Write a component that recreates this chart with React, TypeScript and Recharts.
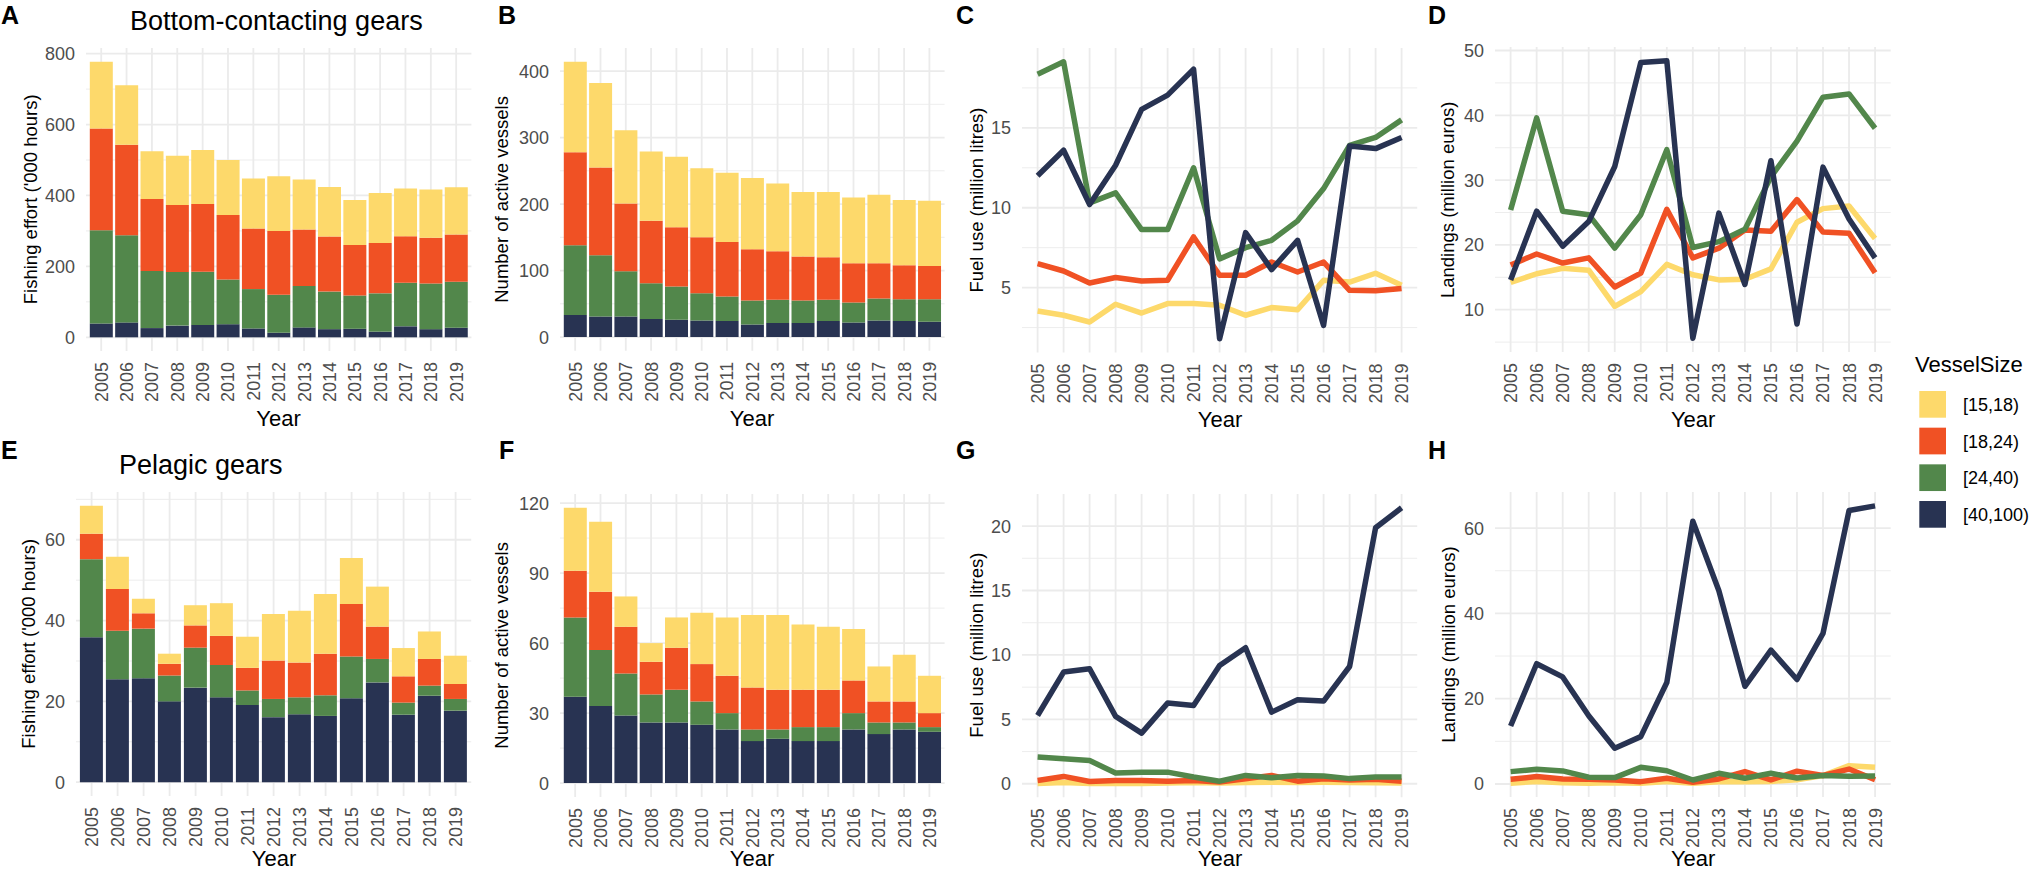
import React from 'react';
import { Bar, BarChart, CartesianGrid, Line, LineChart, XAxis, YAxis } from 'recharts';

const years = ['2005', '2006', '2007', '2008', '2009', '2010', '2011', '2012', '2013', '2014', '2015', '2016', '2017', '2018', '2019'];
const sizeLabels = ['[15,18)', '[18,24)', '[24,40)', '[40,100)'];

// A: fishing effort, bottom-contacting gears ('000 hours)
const effortBottom15 = [188, 168, 135, 139, 152, 155, 141, 154, 141, 140, 127, 141, 135, 136, 133];
const effortBottom18 = [287, 255, 203, 189, 191, 182, 171, 180, 159, 155, 142, 142, 131, 129, 133];
const effortBottom24 = [263, 246, 161, 151, 150, 126, 111, 107, 117, 106, 94, 108, 123, 129, 130];
const effortBottom40 = [39, 42, 26, 33, 35, 37, 25, 13, 28, 23, 24, 16, 31, 23, 27];

// B: active vessels, bottom-contacting gears
const vesselsBottom15 = [136, 127, 110, 104, 106, 104, 104, 107, 102, 97, 98, 99, 103, 98, 98];
const vesselsBottom18 = [140, 132, 102, 94, 89, 84, 82, 77, 73, 66, 64, 59, 53, 51, 50];
const vesselsBottom24 = [105, 92, 68, 54, 50, 41, 37, 36, 35, 34, 32, 30, 33, 33, 34];
const vesselsBottom40 = [33, 31, 31, 27, 26, 25, 24, 19, 21, 21, 24, 22, 25, 24, 23];

// C: fuel use, bottom-contacting gears (million litres)
const fuelBottom15 = [3.54, 3.27, 2.85, 3.96, 3.41, 4.0, 4.0, 3.9, 3.27, 3.75, 3.62, 5.46, 5.35, 5.9, 5.15];
const fuelBottom18 = [6.5, 6.04, 5.29, 5.63, 5.42, 5.46, 8.17, 5.77, 5.77, 6.6, 5.98, 6.6, 4.83, 4.8, 4.95];
const fuelBottom24 = [18.36, 19.13, 10.3, 10.93, 8.63, 8.63, 12.5, 6.8, 7.5, 7.96, 9.18, 11.2, 13.9, 14.4, 15.5];
const fuelBottom40 = [12.0, 13.6, 10.2, 12.66, 16.15, 17.05, 18.67, 1.8, 8.44, 6.13, 7.96, 2.64, 13.87, 13.7, 14.4];

// D: landings, bottom-contacting gears (million euros)
const landBottom15 = [14.2, 15.55, 16.4, 16.1, 10.5, 12.8, 17.0, 15.4, 14.6, 14.7, 16.3, 23.5, 25.6, 26.0, 21.0];
const landBottom18 = [16.9, 18.6, 17.2, 18.0, 13.5, 15.65, 25.5, 18.0, 19.5, 22.3, 22.1, 27.0, 22.0, 21.8, 15.7];
const landBottom24 = [25.4, 39.6, 25.2, 24.65, 19.5, 24.65, 34.7, 19.6, 20.5, 22.4, 30.5, 36.0, 42.8, 43.3, 38.0];
const landBottom40 = [14.6, 25.2, 19.8, 23.6, 32.1, 48.15, 48.4, 5.6, 24.9, 13.9, 33.0, 7.8, 32.0, 24.0, 18.0];

// E: fishing effort, pelagic gears
const effortPel15 = [6.9, 8.0, 3.6, 2.5, 5.0, 8.1, 7.7, 11.5, 12.8, 14.8, 11.4, 9.9, 7.0, 6.8, 7.0];
const effortPel18 = [6.3, 10.3, 3.8, 2.9, 5.5, 7.2, 5.6, 9.5, 8.6, 10.3, 13.0, 8.0, 6.5, 6.6, 3.7];
const effortPel24 = [19.3, 12.0, 12.3, 6.4, 9.9, 8.0, 3.6, 4.5, 4.2, 5.1, 10.3, 5.8, 3.0, 2.5, 2.9];
const effortPel40 = [35.9, 25.5, 25.7, 20.0, 23.4, 21.0, 19.1, 16.1, 16.8, 16.4, 20.8, 24.7, 16.7, 21.4, 17.7];

// F: active vessels, pelagic gears
const vesselsPel15 = [27, 30, 13, 8, 13, 22, 25, 31, 32, 28, 27, 22, 15, 20, 16];
const vesselsPel18 = [20, 25, 20, 14, 18, 16, 16, 18, 17, 16, 16, 14, 9, 9, 6];
const vesselsPel24 = [34, 24, 18, 12, 14, 10, 7, 5, 4, 6, 6, 7, 5, 3, 2];
const vesselsPel40 = [37, 33, 29, 26, 26, 25, 23, 18, 19, 18, 18, 23, 21, 23, 22];

// G: fuel use, pelagic gears
const fuelPel15 = [0.03, 0.1, 0.02, 0.02, 0.02, 0.05, 0.1, 0.05, 0.1, 0.12, 0.1, 0.12, 0.1, 0.08, 0.05];
const fuelPel18 = [0.26, 0.57, 0.18, 0.26, 0.26, 0.2, 0.26, 0.13, 0.39, 0.65, 0.2, 0.39, 0.3, 0.35, 0.2];
const fuelPel24 = [2.07, 1.94, 1.81, 0.83, 0.9, 0.9, 0.52, 0.2, 0.65, 0.47, 0.65, 0.6, 0.4, 0.52, 0.52];
const fuelPel40 = [5.3, 8.67, 8.93, 5.23, 3.93, 6.26, 6.08, 9.18, 10.56, 5.56, 6.52, 6.42, 9.1, 19.87, 21.42];

// H: landings, pelagic gears
const landPel15 = [0.2, 0.6, 0.3, 0.2, 0.3, 0.2, 0.6, 0.2, 0.5, 0.5, 0.6, 1.0, 2.0, 4.3, 3.9];
const landPel18 = [1.1, 1.73, 1.18, 1.1, 0.94, 0.55, 1.33, 0.4, 1.18, 2.9, 0.94, 3.0, 2.0, 3.5, 1.0];
const landPel24 = [2.9, 3.45, 3.06, 1.57, 1.5, 3.9, 3.1, 0.94, 2.5, 1.33, 2.5, 1.4, 2.0, 1.8, 1.9];
const landPel40 = [13.6, 28.2, 25.1, 16.0, 8.4, 11.1, 23.8, 61.6, 45.3, 22.9, 31.4, 24.5, 35.3, 64.1, 65.2];

const YELLOW = '#FDD96B';
const ORANGE = '#F05124';
const GREEN = '#52874B';
const NAVY = '#283352';
const SIZE_COLORS = [YELLOW, ORANGE, GREEN, NAVY];
const GRID = '#EBEBEB';
const FONT = '"Liberation Sans", Arial, Helvetica, sans-serif';

type Row = { year: string; s15: number; s18: number; s24: number; s40: number };
type Box = { left: number; right: number; top: number; bottom: number };

const makeRows = (s15: number[], s18: number[], s24: number[], s40: number[]): Row[] =>
  years.map((year, i) => ({ year, s15: s15[i], s18: s18[i], s24: s24[i], s40: s40[i] }));

// ggplot-style 5% expansion of the data range
function expand(lo: number, hi: number): [number, number] {
  const e = (hi - lo) * 0.05;
  return [lo - e, hi + e];
}

function barDomain(rows: Row[]) {
  const totals = rows.map((r) => r.s15 + r.s18 + r.s24 + r.s40);
  return expand(0, Math.max(...totals));
}

function lineDomain(rows: Row[]) {
  const all = rows.flatMap((r) => [r.s15, r.s18, r.s24, r.s40]);
  return expand(Math.min(...all), Math.max(...all));
}

const XTick = (props: any) => {
  const { x, y, payload } = props;
  return (
    <text
      x={x}
      y={y}
      transform={`rotate(-90 ${x} ${y})`}
      textAnchor="end"
      dy="0.36em"
      fontSize={18}
      fontFamily={FONT}
      fill="#4D4D4D"
    >
      {payload.value}
    </text>
  );
};

const YTick = (props: any) => {
  const { x, y, payload } = props;
  return (
    <text x={x} y={y} textAnchor="end" dy="0.36em" fontSize={18} fontFamily={FONT} fill="#4D4D4D">
      {payload.value}
    </text>
  );
};

type PanelProps = {
  kind: 'bar' | 'line';
  box: Box;
  rows: Row[];
  ticks: number[];
  minor: number[];
};

function Panel({ kind, box, rows, ticks, minor }: PanelProps) {
  const yW = 80;
  const mt = 8;
  const mr = 8;
  const xH = 62;
  const plotW = box.right - box.left;
  const plotH = box.bottom - box.top;
  const step = plotW / 15.2;
  const pad = (kind === 'bar' ? 0.1 : 0.6) * step;
  const domain = kind === 'bar' ? barDomain(rows) : lineDomain(rows);
  const width = yW + plotW + mr;
  const height = mt + plotH + xH;
  const margin = { top: mt, right: mr, left: 0, bottom: 0 };

  const frame = [
    <CartesianGrid key="minor" vertical={false} horizontalValues={minor} syncWithTicks stroke={GRID} strokeWidth={0.9} />,
    <CartesianGrid
      key="major"
      horizontalValues={ticks}
      verticalValues={years}
      syncWithTicks
      stroke={GRID}
      strokeWidth={1.8}
    />,
    <XAxis
      key="x"
      dataKey="year"
      interval={0}
      padding={{ left: pad, right: pad }}
      axisLine={false}
      tickLine={false}
      tickSize={0}
      tickMargin={11}
      tick={<XTick />}
      height={xH}
    />,
    <YAxis
      key="y"
      type="number"
      domain={domain}
      allowDataOverflow
      ticks={ticks}
      interval={0}
      axisLine={false}
      tickLine={false}
      tickSize={0}
      tickMargin={11}
      tick={<YTick />}
      width={yW}
    />,
  ];

  return (
    <div style={{ position: 'absolute', left: box.left - yW, top: box.top - mt }}>
      {kind === 'bar' ? (
        <BarChart width={width} height={height} data={rows} margin={margin} barCategoryGap="5%">
          {frame}
          <Bar dataKey="s40" stackId="a" fill={NAVY} isAnimationActive={false} />
          <Bar dataKey="s24" stackId="a" fill={GREEN} isAnimationActive={false} />
          <Bar dataKey="s18" stackId="a" fill={ORANGE} isAnimationActive={false} />
          <Bar dataKey="s15" stackId="a" fill={YELLOW} isAnimationActive={false} />
        </BarChart>
      ) : (
        <LineChart width={width} height={height} data={rows} margin={margin}>
          {frame}
          {(['s15', 's18', 's24', 's40'] as const).map((k, i) => (
            <Line
              key={k}
              type="linear"
              dataKey={k}
              stroke={SIZE_COLORS[i]}
              strokeWidth={5.5}
              strokeLinejoin="round"
              dot={false}
              activeDot={false}
              isAnimationActive={false}
            />
          ))}
        </LineChart>
      )}
    </div>
  );
}

const panels = [
  {
    id: 'A', kind: 'bar', rows: makeRows(effortBottom15, effortBottom18, effortBottom24, effortBottom40),
    box: { left: 85.8, right: 471.2, top: 47.7, bottom: 350.8 },
    ticks: [0, 200, 400, 600, 800], minor: [100, 300, 500, 700],
    yTitle: "Fishing effort ('000 hours)", yTitleX: 30, letterX: 1,
  },
  {
    id: 'B', kind: 'bar', rows: makeRows(vesselsBottom15, vesselsBottom18, vesselsBottom24, vesselsBottom40),
    box: { left: 559.8, right: 944.4, top: 48, bottom: 350.8 },
    ticks: [0, 100, 200, 300, 400], minor: [50, 150, 250, 350],
    yTitle: 'Number of active vessels', yTitleX: 501.7, letterX: 498,
  },
  {
    id: 'C', kind: 'line', rows: makeRows(fuelBottom15, fuelBottom18, fuelBottom24, fuelBottom40),
    box: { left: 1022.4, right: 1417.6, top: 47.7, bottom: 352.3 },
    ticks: [5, 10, 15], minor: [2.5, 7.5, 12.5, 17.5],
    yTitle: 'Fuel use (million litres)', yTitleX: 976.7, letterX: 956,
  },
  {
    id: 'D', kind: 'line', rows: makeRows(landBottom15, landBottom18, landBottom24, landBottom40),
    box: { left: 1495.3, right: 1891, top: 47.3, bottom: 352.4 },
    ticks: [10, 20, 30, 40, 50], minor: [5, 15, 25, 35, 45],
    yTitle: 'Landings (million euros)', yTitleX: 1448, letterX: 1428,
  },
  {
    id: 'E', kind: 'bar', rows: makeRows(effortPel15, effortPel18, effortPel24, effortPel40),
    box: { left: 76.4, right: 471.6, top: 491.8, bottom: 795.8 },
    ticks: [0, 20, 40, 60], minor: [10, 30, 50, 70],
    yTitle: "Fishing effort ('000 hours)", yTitleX: 28.3, letterX: 1,
  },
  {
    id: 'F', kind: 'bar', rows: makeRows(vesselsPel15, vesselsPel18, vesselsPel24, vesselsPel40),
    box: { left: 559.8, right: 944.4, top: 493.9, bottom: 796.8 },
    ticks: [0, 30, 60, 90, 120], minor: [15, 45, 75, 105],
    yTitle: 'Number of active vessels', yTitleX: 501.7, letterX: 499,
  },
  {
    id: 'G', kind: 'line', rows: makeRows(fuelPel15, fuelPel18, fuelPel24, fuelPel40),
    box: { left: 1022.4, right: 1417.6, top: 493.5, bottom: 796.8 },
    ticks: [0, 5, 10, 15, 20], minor: [2.5, 7.5, 12.5, 17.5],
    yTitle: 'Fuel use (million litres)', yTitleX: 976.7, letterX: 956,
  },
  {
    id: 'H', kind: 'line', rows: makeRows(landPel15, landPel18, landPel24, landPel40),
    box: { left: 1495.3, right: 1891, top: 492, bottom: 797 },
    ticks: [0, 20, 40, 60], minor: [10, 30, 50],
    yTitle: 'Landings (million euros)', yTitleX: 1448, letterX: 1428,
  },
] as const;

export default function App() {
  return (
    <div
      style={{
        position: 'absolute',
        left: 0,
        top: 0,
        width: 2030,
        height: 871,
        background: '#fff',
        overflow: 'hidden',
        fontFamily: FONT,
      }}
    >
      {panels.map((p) => (
        <Panel key={p.id} kind={p.kind} box={p.box} rows={p.rows} ticks={p.ticks as any} minor={p.minor as any} />
      ))}

      <svg
        width={2030}
        height={871}
        style={{ position: 'absolute', left: 0, top: 0, pointerEvents: 'none' }}
        fontFamily={FONT}
      >
        {panels.map((p) => {
          const top = p.box.top < 400;
          const cy = (p.box.top + p.box.bottom) / 2;
          const cx = (p.box.left + p.box.right) / 2;
          return (
            <g key={p.id}>
              <text x={p.letterX} y={top ? 23.5 : 459} fontSize={25} fontWeight="bold" fill="#000">
                {p.id}
              </text>
              <text
                x={p.yTitleX}
                y={cy}
                transform={`rotate(-90 ${p.yTitleX} ${cy})`}
                textAnchor="middle"
                dominantBaseline="central"
                fontSize={18.5}
                fill="#000"
              >
                {p.yTitle}
              </text>
              <text
                x={cx}
                y={Math.min(p.box.bottom + 75, 866)}
                textAnchor="middle"
                fontSize={22}
                fill="#000"
              >
                Year
              </text>
            </g>
          );
        })}

        <text x={130} y={30} fontSize={27} fill="#000">
          Bottom-contacting gears
        </text>
        <text x={119} y={474} fontSize={27} fill="#000">
          Pelagic gears
        </text>

        <text x={1915} y={371.5} fontSize={22} fill="#000">
          VesselSize
        </text>
        {sizeLabels.map((label, i) => {
          const y = 391 + i * 36.67;
          return (
            <g key={label}>
              <rect x={1919.3} y={y} width={26.7} height={26.7} fill={SIZE_COLORS[i]} />
              <text x={1963} y={y + 13.35} dy="0.36em" fontSize={18} fill="#000">
                {label}
              </text>
            </g>
          );
        })}
      </svg>
    </div>
  );
}
